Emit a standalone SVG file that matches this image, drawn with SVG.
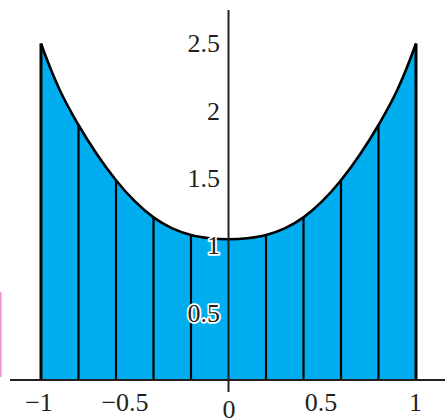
<svg xmlns="http://www.w3.org/2000/svg" width="445" height="419" viewBox="0 0 445 419">
<style>
.lbl { font-family: "Liberation Serif", "Times New Roman", serif; font-size: 26px; fill: #231f20; }
.halo { stroke: #ffffff; stroke-width: 3.5; stroke-linejoin: round; paint-order: stroke; }
.strip { stroke: #000000; stroke-width: 2.2; }
.edge { stroke: #000000; stroke-width: 3; }
.axis { stroke: #231f20; stroke-width: 2; fill: none; }
</style>
<rect x="0" y="0" width="445" height="419" fill="#ffffff"/>
<rect id="pink-mark" x="0" y="292" width="1.6" height="85" fill="#f48fd8"/>
<g id="area">
<path fill="#00aeef" d="M41,380 L41,43.5 C47.25,60.92 53.5,76.42 59.75,90 C66,103.58 72.25,114.22 78.5,125 C84.75,135.78 91,145.5 97.25,154.7 C103.5,163.9 109.75,172.45 116,180.2 C122.25,187.95 128.5,195 134.75,201.2 C141,207.4 147.25,212.87 153.5,217.4 C159.75,221.93 166,225.47 172.25,228.4 C178.5,231.33 184.75,233.35 191,235 C197.25,236.65 203.5,237.58 209.75,238.3 C216,239.02 222.25,239.3 228.5,239.3 C234.75,239.3 241,239.02 247.25,238.3 C253.5,237.58 259.75,236.65 266,235 C272.25,233.35 278.5,231.33 284.75,228.4 C291,225.47 297.25,221.93 303.5,217.4 C309.75,212.87 316,207.4 322.25,201.2 C328.5,195 334.75,187.95 341,180.2 C347.25,172.45 353.5,163.9 359.75,154.7 C366,145.5 372.25,135.78 378.5,125 C384.75,114.22 391,103.58 397.25,90 C403.5,76.42 409.75,60.92 416,43.5 L416,380 Z"/>
</g>
<g id="strips">
<line class="strip" x1="78.5" y1="125" x2="78.5" y2="380"/>
<line class="strip" x1="116" y1="180.2" x2="116" y2="380"/>
<line class="strip" x1="153.5" y1="217.4" x2="153.5" y2="380"/>
<line class="strip" x1="191" y1="235" x2="191" y2="380"/>
<line class="strip" x1="266" y1="235" x2="266" y2="380"/>
<line class="strip" x1="303.5" y1="217.4" x2="303.5" y2="380"/>
<line class="strip" x1="341" y1="180.2" x2="341" y2="380"/>
<line class="strip" x1="378.5" y1="125" x2="378.5" y2="380"/>
<line class="edge" x1="41" y1="43.5" x2="41" y2="380"/>
<line class="edge" x1="416" y1="43.5" x2="416" y2="380"/>
</g>
<g id="curve">
<path fill="none" stroke="#000000" stroke-width="2.6" stroke-linejoin="round" d="M41,43.5 C47.25,60.92 53.5,76.42 59.75,90 C66,103.58 72.25,114.22 78.5,125 C84.75,135.78 91,145.5 97.25,154.7 C103.5,163.9 109.75,172.45 116,180.2 C122.25,187.95 128.5,195 134.75,201.2 C141,207.4 147.25,212.87 153.5,217.4 C159.75,221.93 166,225.47 172.25,228.4 C178.5,231.33 184.75,233.35 191,235 C197.25,236.65 203.5,237.58 209.75,238.3 C216,239.02 222.25,239.3 228.5,239.3 C234.75,239.3 241,239.02 247.25,238.3 C253.5,237.58 259.75,236.65 266,235 C272.25,233.35 278.5,231.33 284.75,228.4 C291,225.47 297.25,221.93 303.5,217.4 C309.75,212.87 316,207.4 322.25,201.2 C328.5,195 334.75,187.95 341,180.2 C347.25,172.45 353.5,163.9 359.75,154.7 C366,145.5 372.25,135.78 378.5,125 C384.75,114.22 391,103.58 397.25,90 C403.5,76.42 409.75,60.92 416,43.5"/>
</g>
<g id="axes">
<line class="axis" x1="10" y1="380" x2="445" y2="380"/>
<line class="axis" x1="228.5" y1="10" x2="228.5" y2="392"/>
</g>
<g id="y-labels">
<text class="lbl" x="220" y="52.3" text-anchor="end">2.5</text>
<text class="lbl" x="220" y="119.6" text-anchor="end">2</text>
<text class="lbl" x="220" y="186.9" text-anchor="end">1.5</text>
<text class="lbl halo" x="220" y="254.2" text-anchor="end">1</text>
<text class="lbl halo" x="220" y="321.5" text-anchor="end">0.5</text>
</g>
<g id="x-labels">
<text class="lbl" x="39" y="410.7" text-anchor="middle">−1</text>
<text class="lbl" x="125" y="410.7" text-anchor="middle">−0.5</text>
<text class="lbl" x="229" y="418" text-anchor="middle">0</text>
<text class="lbl" x="321" y="410.7" text-anchor="middle">0.5</text>
<text class="lbl" x="415.5" y="410.7" text-anchor="middle">1</text>
</g>
</svg>
